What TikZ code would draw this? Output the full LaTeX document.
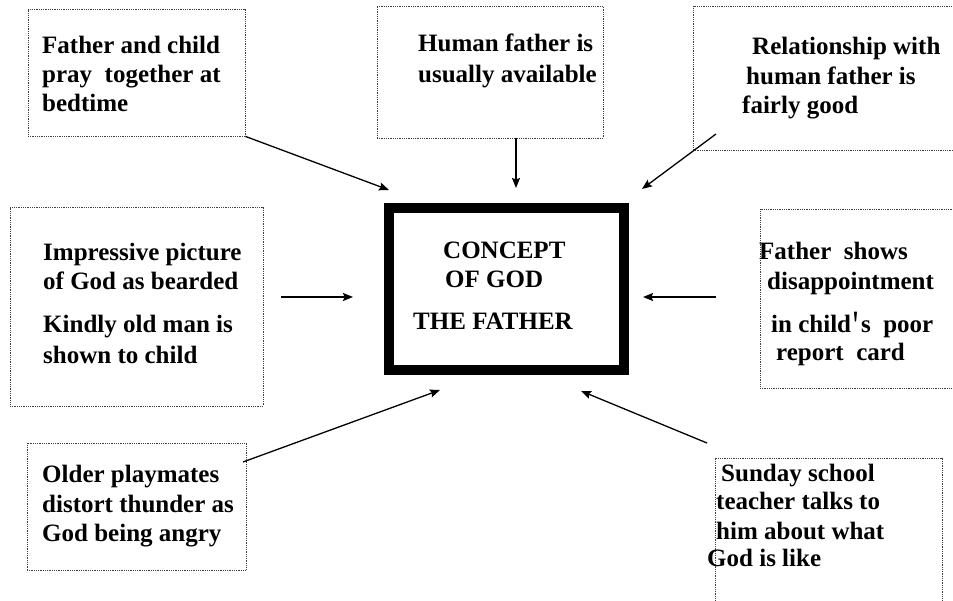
\documentclass[tikz,border=0pt]{standalone}
\usepackage{graphicx}
\usepackage{fontspec}
\setmainfont{Liberation Serif}
\usetikzlibrary{arrows.meta}

\tikzset{
  cue/.style={draw=black!75, densely dotted, line width=0.8pt, inner sep=0pt},
  cuetext/.style={anchor=base west, align=left, inner sep=0pt,
    font=\bfseries\fontsize{25}{29}\selectfont},
  push/.style={line width=1.3pt, -{Stealth[length=10pt,width=8pt,inset=1.5pt]}},
}

\begin{document}
\begin{tikzpicture}[x=1pt, y=-1pt]
        \useasboundingbox (0,0) rectangle (953,601);
        \clip (0,0) rectangle (953,601);
        % Centre frame
        \node[draw, line width=10pt, minimum width=235pt, minimum height=162pt] (concept) at (506.5,289) {};
        \node[cuetext] (concepttext) at (413,330)
          {\hspace*{30pt}CONCEPT\\ \hspace*{32pt}OF GOD\\[13pt] THE FATHER};
        % Dotted cue boxes
        \node[cue, minimum width=217pt, minimum height=127pt] (pray) at (136.5,72.5) {};
        \node[cue, minimum width=226pt, minimum height=132pt] (avail) at (490,72) {};
        \node[cue, minimum width=277pt, minimum height=144pt] (relation) at (831.5,78) {};
        \node[cue, minimum width=253pt, minimum height=199pt] (picture) at (136.5,306.5) {};
        \node[cue, minimum width=210pt, minimum height=179pt] (report) at (865,298.5) {};
        \node[cue, minimum width=219pt, minimum height=127pt] (thunder) at (136.5,506.5) {};
        \node[cue, minimum width=227pt, minimum height=162pt] (sunday) at (828.5,539) {};
        % Cue texts (placed by the baseline of their last line)
        \node[cuetext] (praytext) at (42,112)
          {Father and child\\ pray\ \ together at\\ bedtime};
        \node[cuetext] (availtext) at (418,83)
          {Human father is\\[2pt] usually available};
        \node[cuetext] (relationtext) at (742,114)
          {\hspace*{10pt}Relationship with\\[1pt] \hspace*{4pt}human father is\\ fairly good};
        \node[cuetext] (picturetext) at (43,364)
          {Impressive picture\\[1pt] of God as bearded\\[13pt] Kindly old man is\\[3pt] shown to child};
        \node[cuetext] (reporttext) at (759,361)
          {Father\ \ shows\\[1pt] \hspace*{8pt}disappointment\\[14pt]
           \hspace*{12pt}in child\hspace{1pt}\raisebox{-7pt}{\scalebox{1}[1.67]{\textquotesingle}}\hspace{2pt}s\ \ poor\\[-1pt]
           \hspace*{17pt}report\ \ card};
        \node[cuetext] (thundertext) at (42,541)
          {Older playmates\\[1pt] distort thunder as\\ God being angry};
        \node[cuetext] (sundaytext) at (707,566)
          {\hspace*{14pt}Sunday school\\[-1pt] \hspace*{9pt}teacher talks to\\[1pt] \hspace*{9pt}him about what\\[-2pt] God is like};
        % Arrow ends
        \coordinate (availfoot) at (516,138);
        \coordinate (relationfoot) at (716,134);
        \coordinate (picturefoot) at (281,297);
        \coordinate (reportfoot) at (716,297);
        \coordinate (thunderfoot) at (243,462);
        \coordinate (sundayfoot) at (707,443);
        \coordinate (tipnw) at (389,190);
        \coordinate (tipn) at (516,188);
        \coordinate (tipne) at (642,189);
        \coordinate (tipw) at (353,297);
        \coordinate (tipe) at (643,297);
        \coordinate (tipsw) at (440,390);
        \coordinate (tipse) at (581,391);
        % Arrows into the centre
        \draw[push] (pray.south east) -- (tipnw);
        \draw[push] (availfoot) -- (tipn);
        \draw[push] (relationfoot) -- (tipne);
        \draw[push] (picturefoot) -- (tipw);
        \draw[push] (reportfoot) -- (tipe);
        \draw[push] (thunderfoot) -- (tipsw);
        \draw[push] (sundayfoot) -- (tipse);
      \end{tikzpicture}
\end{document}
